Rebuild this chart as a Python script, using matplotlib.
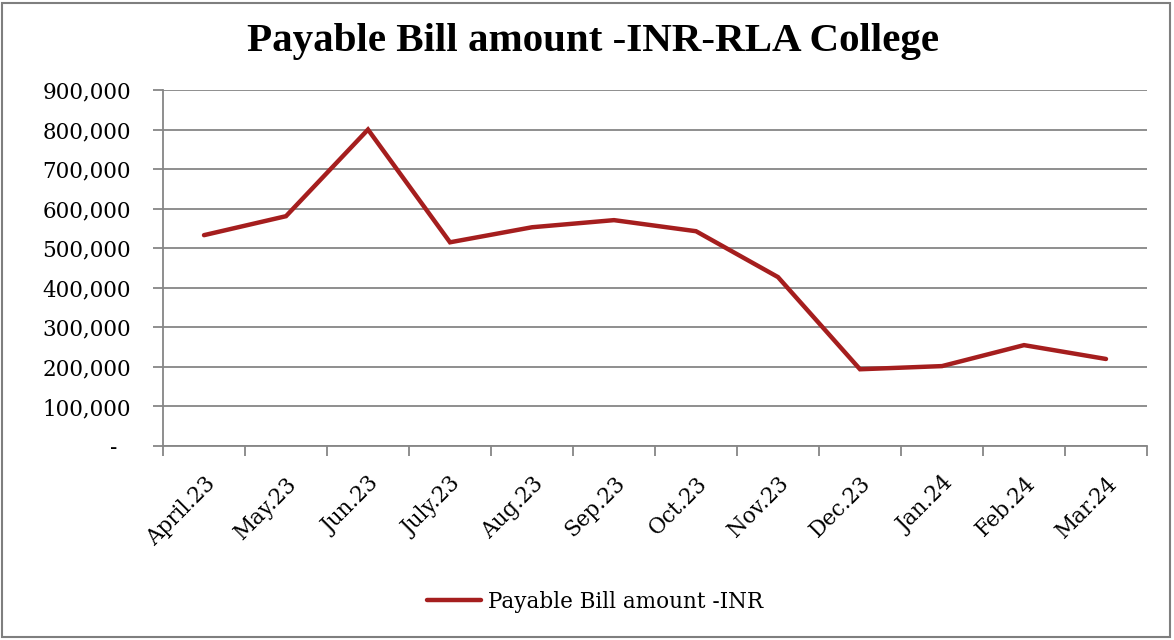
import matplotlib
matplotlib.use("Agg")
import matplotlib.pyplot as plt
from matplotlib.patches import Rectangle
from matplotlib.ticker import FuncFormatter, FixedLocator

months = ["April.23", "May.23", "Jun.23", "July.23", "Aug.23", "Sep.23",
          "Oct.23", "Nov.23", "Dec.23", "Jan.24", "Feb.24", "Mar.24"]
amounts = [533000, 581000, 800000, 515000, 553000, 571000,
           543000, 427000, 194000, 202000, 255000, 220000]
series_name = "Payable Bill amount -INR"
title = "Payable Bill amount -INR-RLA College"

line_color = "#A51E1E"
grid_color = "#868686"
tick_font = "DejaVu Serif"

fig = plt.figure(figsize=(11.74, 6.40), dpi=100)
fig.patches.append(Rectangle((0.002, 0.004), 0.995, 0.992, transform=fig.transFigure,
                             fill=False, edgecolor="#7f7f7f", linewidth=1.5))

W, H = 1174, 640
ax = fig.add_axes([163 / W, 1 - 446 / H, (1147 - 163) / W, (446 - 90) / H])

x = list(range(len(months)))
ax.plot(x, amounts, color=line_color, linewidth=3.2, solid_capstyle="round",
        solid_joinstyle="miter", label=series_name, zorder=3)

ax.set_xlim(-0.5, len(months) - 0.5)
ax.set_ylim(0, 900000)
ax.set_yticks(range(0, 900001, 100000))
ax.yaxis.set_major_formatter(FuncFormatter(lambda v, p: "-  " if v == 0 else f"{int(v):,}"))
ax.grid(axis="y", color=grid_color, linewidth=1.3)
ax.set_axisbelow(True)

ax.xaxis.set_major_locator(FixedLocator([i - 0.5 for i in range(len(months) + 1)]))
ax.xaxis.set_minor_locator(FixedLocator(x))
ax.set_xticklabels([""] * (len(months) + 1))
ax.set_xticklabels(months, minor=True, rotation=45, ha="right", va="top",
                   rotation_mode="anchor", fontfamily=tick_font, fontsize=15.5)
ax.tick_params(axis="x", which="minor", length=0, pad=19)
ax.tick_params(axis="x", which="major", length=7, width=1.3, color=grid_color)
ax.tick_params(axis="y", length=7, width=1.3, color=grid_color, pad=16)
for lbl in ax.get_yticklabels():
    lbl.set_fontfamily(tick_font)
    lbl.set_fontsize(15.5)

for side in ["top", "right"]:
    ax.spines[side].set_visible(False)
for side in ["left", "bottom"]:
    ax.spines[side].set_color(grid_color)
    ax.spines[side].set_linewidth(1.3)

fig.text(0.505, 1 - 42 / H, title, ha="center", va="center",
         fontfamily="Liberation Serif", fontweight="bold", fontsize=29.5)

fig.legend(loc="center", bbox_to_anchor=(595 / W, 1 - 602 / H), frameon=False,
           prop={"family": tick_font, "size": 15.5}, handlelength=2.5, handletextpad=0.3)

fig.savefig("out.png", dpi=100)
